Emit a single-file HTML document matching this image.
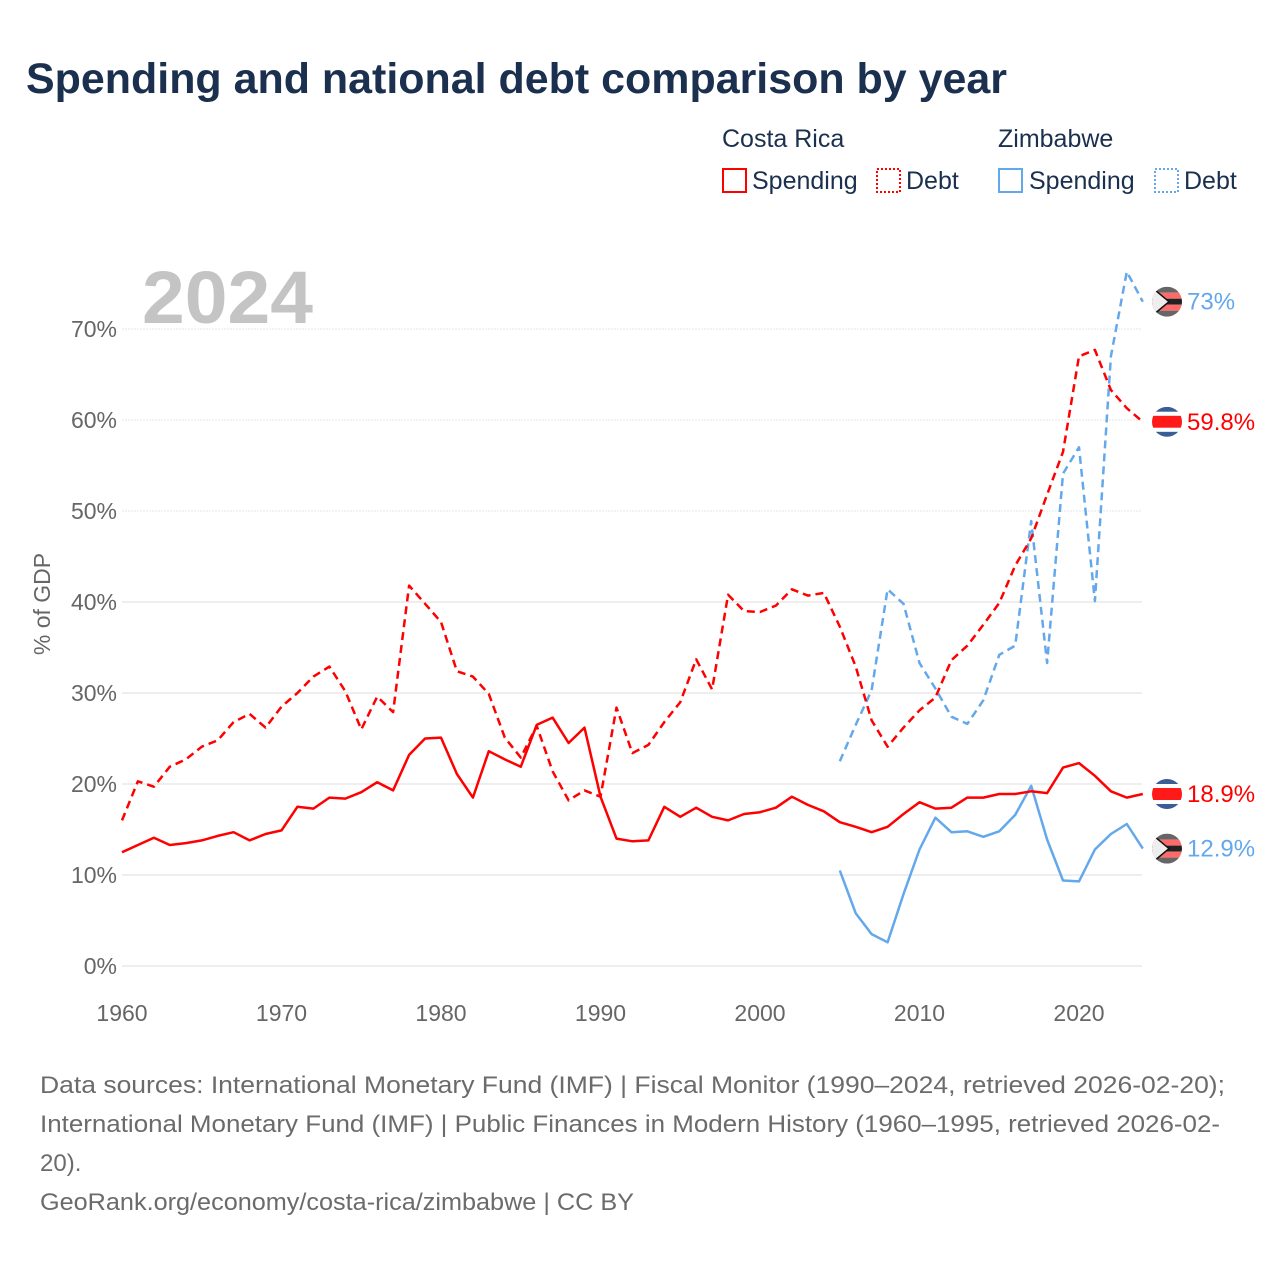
<!DOCTYPE html>
<html><head><meta charset="utf-8"><style>
body{margin:0;width:1280px;height:1280px;background:#fff;overflow:hidden;font-family:"Liberation Sans",sans-serif}
</style></head><body>
<svg id="chart" width="1280" height="1280" xmlns="http://www.w3.org/2000/svg" font-family="Liberation Sans, sans-serif">
<text x="26" y="93" font-size="43" font-weight="bold" fill="#1b2f4e" textLength="981" lengthAdjust="spacingAndGlyphs">Spending and national debt comparison by year</text>
<g font-size="25" fill="#1b2f4e">
<text x="722" y="147">Costa Rica</text>
<text x="998" y="147">Zimbabwe</text>
<g><rect x="723" y="169" width="23" height="23" fill="none" stroke="#ff0000" stroke-width="2"/><text x="752" y="189">Spending</text></g>
<g><rect x="877" y="169" width="23" height="23" fill="none" stroke="#ff0000" stroke-width="2" stroke-dasharray="2,2"/><text x="906" y="189">Debt</text></g>
<g><rect x="999" y="169" width="23" height="23" fill="none" stroke="#64a8ec" stroke-width="2"/><text x="1029" y="189">Spending</text></g>
<g><rect x="1155" y="169" width="23" height="23" fill="none" stroke="#64a8ec" stroke-width="2" stroke-dasharray="2,2"/><text x="1184" y="189">Debt</text></g>
</g>
<text x="142" y="323" font-size="74" font-weight="bold" fill="#c4c4c4" textLength="171" lengthAdjust="spacingAndGlyphs">2024</text>
<text transform="translate(50,604) rotate(-90)" text-anchor="middle" font-size="23" fill="#666">% of GDP</text>
<g id="grid"></g><g id="yticks"></g><g id="xticks"></g><g id="series"></g><g id="ends"></g>
<g font-size="24" fill="#6b6b6b">
<text x="40" y="1093" textLength="1185" lengthAdjust="spacingAndGlyphs">Data sources: International Monetary Fund (IMF) | Fiscal Monitor (1990–2024, retrieved 2026-02-20);</text>
<text x="40" y="1132" textLength="1180" lengthAdjust="spacingAndGlyphs">International Monetary Fund (IMF) | Public Finances in Modern History (1960–1995, retrieved 2026-02-</text>
<text x="40" y="1171">20).</text>
<text x="40" y="1210" textLength="594" lengthAdjust="spacingAndGlyphs">GeoRank.org/economy/costa-rica/zimbabwe | CC BY</text>
</g>
</svg>
<script>
const yTicks=[0,10,20,30,40,50,60,70];
const xTicks=[1960,1970,1980,1990,2000,2010,2020];
const crYears=[];for(let y=1960;y<=2024;y++)crYears.push(y);
const zwYears=[];for(let y=2005;y<=2024;y++)zwYears.push(y);
const crSpending=[12.5,13.3,14.1,13.3,13.5,13.8,14.3,14.7,13.8,14.5,14.9,17.5,17.3,18.5,18.4,19.1,20.2,19.3,23.2,25.0,25.1,21.1,18.5,23.6,22.7,21.9,26.5,27.3,24.5,26.2,18.6,14.0,13.7,13.8,17.5,16.4,17.4,16.4,16.0,16.7,16.9,17.4,18.6,17.7,17.0,15.8,15.3,14.7,15.3,16.7,18.0,17.3,17.4,18.5,18.5,18.9,18.9,19.2,19.0,21.8,22.3,20.9,19.2,18.5,18.9];
const crDebt=[16.0,20.3,19.7,21.9,22.7,24.1,24.8,26.8,27.7,26.2,28.5,30.0,31.8,32.9,30.2,26.0,29.6,27.9,41.8,39.8,37.8,32.4,31.8,29.9,25.1,22.9,26.4,21.4,18.2,19.3,18.6,28.4,23.4,24.3,26.8,29.0,33.7,30.4,40.8,39.0,38.9,39.6,41.4,40.7,41.0,37.3,32.9,27.0,24.1,26.2,28.1,29.5,33.6,35.2,37.5,39.9,44.0,47.0,51.8,56.5,67.0,67.7,63.3,61.3,59.8];
const zwSpending=[10.5,5.8,3.5,2.6,7.9,12.8,16.3,14.7,14.8,14.2,14.8,16.6,19.8,13.9,9.4,9.3,12.8,14.5,15.6,12.9];
const zwDebt=[22.5,26.5,30.3,41.4,39.8,33.3,30.5,27.4,26.6,29.2,34.2,35.2,48.9,33.3,54.1,57.0,40.1,67.0,76.3,73.0];
const endLabels=["73%","59.8%","18.9%","12.9%"];
const NS="http://www.w3.org/2000/svg";
const X=y=>122+(y-1960)*(1142.8-122)/64;
const Y=v=>966-v*9.1;
function mk(t,a,p){const e=document.createElementNS(NS,t);for(const k in a)e.setAttribute(k,a[k]);document.getElementById(p).appendChild(e);return e;}
yTicks.forEach(v=>{
 const l=mk('line',{x1:122,x2:1142,y1:Y(v),y2:Y(v),stroke:v>=50?'#e4e4e4':'#e8e8e8','stroke-width':v>=50?1:1.5,'stroke-dasharray':v>=50?'2,1':'none'},'grid');
 
 
 const t=mk('text',{x:117,y:Y(v)+8,'text-anchor':'end','font-size':23,fill:'#666'},'yticks');t.textContent=v+'%';
 
 
});
xTicks.forEach(v=>{
 const t=mk('text',{x:X(v),y:1021,'text-anchor':'middle','font-size':23,fill:'#666'},'xticks');t.textContent=v;
 
 
});
function line(years,vals,color,dash,name){
 const d=vals.map((v,i)=>(i?'L':'M')+X(years[i]).toFixed(1)+','+Y(v).toFixed(1)).join('');
 const p=mk('path',{d:d,fill:'none',stroke:color,'stroke-width':2.5,'stroke-dasharray':dash,'stroke-linejoin':'round'},'series');
 
 
}
line(zwYears,zwSpending,'#64a8ec','none','zimbabwe-spending-line');
line(zwYears,zwDebt,'#64a8ec','8,5','zimbabwe-debt-line');
line(crYears,crSpending,'#ff0000','none','costa-rica-spending-line');
line(crYears,crDebt,'#ff0000','8,5','costa-rica-debt-line');
function flag(v,cr,label,color,name){
 const cy=Y(v),cx=1167;
 const g=mk('g',{},'ends');
 
 
 const id='c'+name;
 const cp=document.createElementNS(NS,'clipPath');cp.setAttribute('id',id);
 const c=document.createElementNS(NS,'circle');c.setAttribute('cx',cx);c.setAttribute('cy',cy);c.setAttribute('r',15);cp.appendChild(c);g.appendChild(cp);
 const gg=document.createElementNS(NS,'g');gg.setAttribute('clip-path','url(#'+id+')');g.appendChild(gg);
 const r=(y,h,f)=>{const e=document.createElementNS(NS,'rect');e.setAttribute('x',cx-16);e.setAttribute('y',y);e.setAttribute('width',32);e.setAttribute('height',h);e.setAttribute('fill',f);gg.appendChild(e);};
 if(cr){r(cy-15,5,'#3a5d96');r(cy-10,4,'#fff');r(cy-6,12,'#ff1a1a');r(cy+6,4,'#fff');r(cy+10,5,'#3a5d96');}
 else{const cols=['#666','#ff6b6b','#222','#ff6b6b','#666'];cols.forEach((f,i)=>r(cy-15+i*6,6,f));
  const t=document.createElementNS(NS,'polygon');t.setAttribute('points',(cx-16)+','+(cy-15)+' '+(cx+2)+','+cy+' '+(cx-16)+','+(cy+15));t.setAttribute('fill','#eee');t.setAttribute('stroke','#111');t.setAttribute('stroke-width','1.5');gg.appendChild(t);}
 const tx=document.createElementNS(NS,'text');tx.setAttribute('x',1187);tx.setAttribute('y',cy+8);tx.setAttribute('font-size',24);tx.setAttribute('fill',color);tx.textContent=label;g.appendChild(tx);
}
flag(zwDebt[zwDebt.length-1],false,endLabels[0],'#64a8ec','zimbabwe-debt-end-label');
flag(crDebt[crDebt.length-1],true,endLabels[1],'#ff0000','costa-rica-debt-end-label');
flag(crSpending[crSpending.length-1],true,endLabels[2],'#ff0000','costa-rica-spending-end-label');
flag(zwSpending[zwSpending.length-1],false,endLabels[3],'#64a8ec','zimbabwe-spending-end-label');
</script>
</body></html>
